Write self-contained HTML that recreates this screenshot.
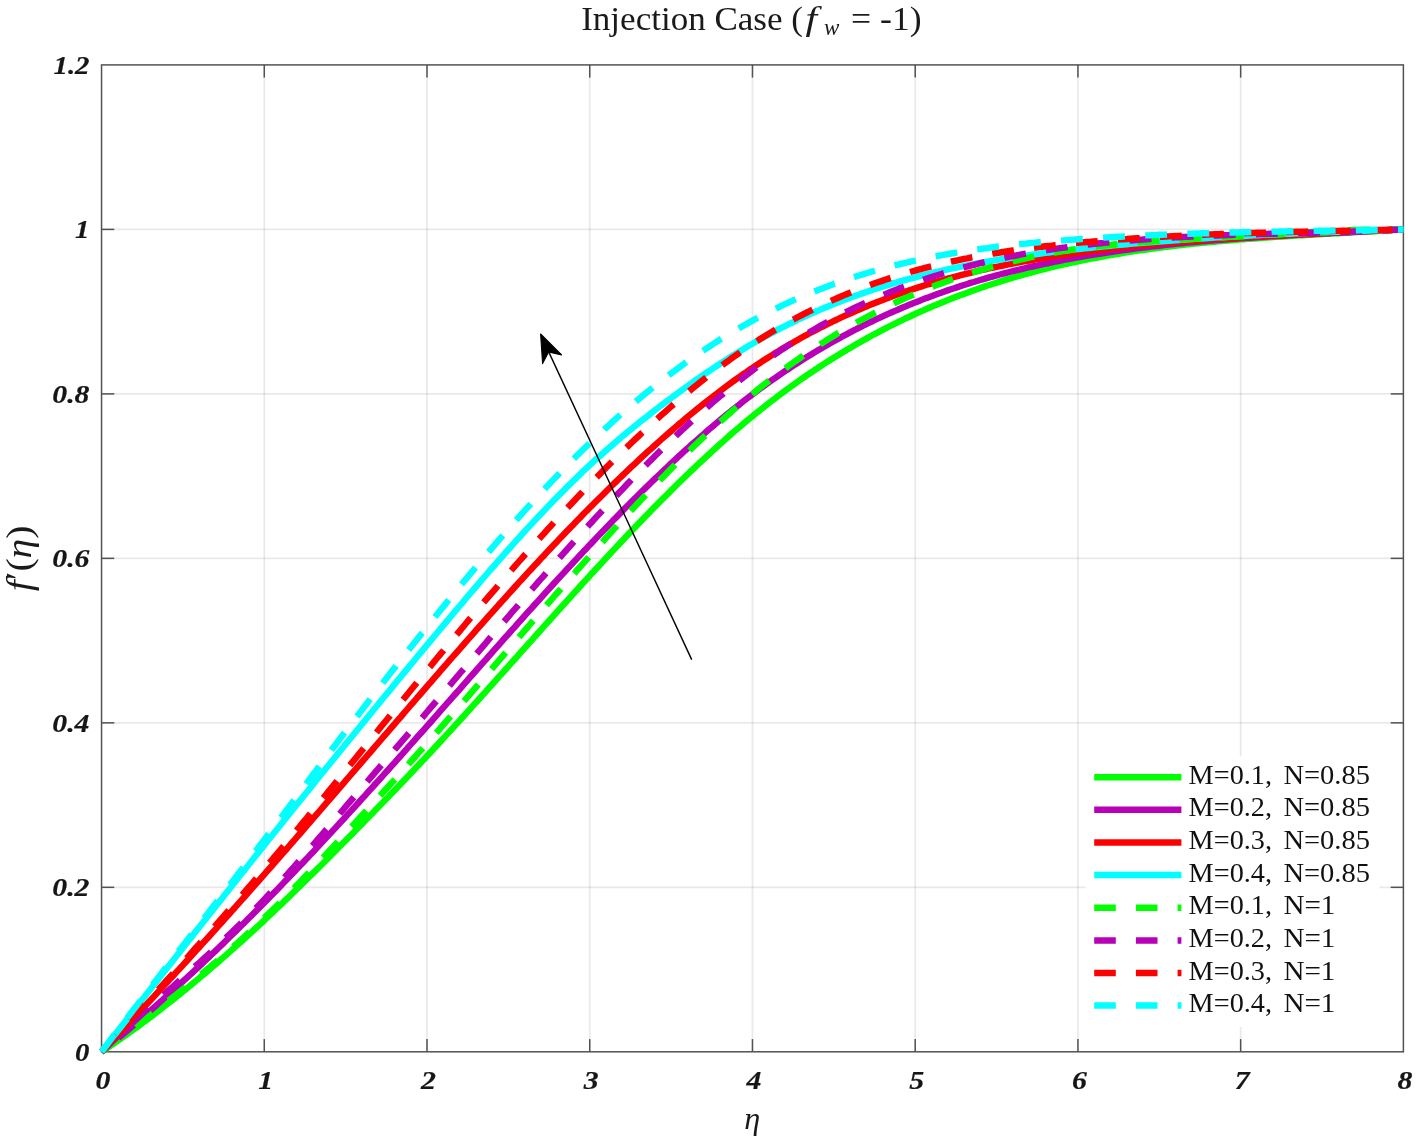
<!DOCTYPE html>
<html lang="en"><head><meta charset="utf-8"><title>Injection Case</title>
<style>html,body{margin:0;padding:0;background:#fff}svg{display:block}text{font-family:"Liberation Serif","DejaVu Serif",serif;fill:#1a1a1a}.tk{font-weight:bold;font-style:italic;font-size:24.6px;fill:#161616;stroke:#161616;stroke-width:0.2px}.lg{font-size:27px;fill:#111}.it{font-style:italic}</style></head><body>
<svg width="1416" height="1141" viewBox="0 0 1416 1141">
<rect width="1416" height="1141" fill="#fff"/>
<g stroke="#262626" stroke-opacity="0.1" stroke-width="1.7" fill="none">
<line x1="264.28" y1="64.92" x2="264.28" y2="1051.80"/>
<line x1="427.01" y1="64.92" x2="427.01" y2="1051.80"/>
<line x1="589.74" y1="64.92" x2="589.74" y2="1051.80"/>
<line x1="752.47" y1="64.92" x2="752.47" y2="1051.80"/>
<line x1="915.20" y1="64.92" x2="915.20" y2="1051.80"/>
<line x1="1077.93" y1="64.92" x2="1077.93" y2="1051.80"/>
<line x1="1240.66" y1="64.92" x2="1240.66" y2="1051.80"/>
<line x1="101.55" y1="887.32" x2="1403.39" y2="887.32"/>
<line x1="101.55" y1="722.84" x2="1403.39" y2="722.84"/>
<line x1="101.55" y1="558.36" x2="1403.39" y2="558.36"/>
<line x1="101.55" y1="393.88" x2="1403.39" y2="393.88"/>
<line x1="101.55" y1="229.40" x2="1403.39" y2="229.40"/>
</g>
<g stroke="#525252" stroke-width="1.5" fill="none">
<rect x="101.55" y="64.92" width="1301.84" height="986.88"/>
<line x1="264.28" y1="1051.80" x2="264.28" y2="1039.10"/>
<line x1="264.28" y1="64.92" x2="264.28" y2="77.62"/>
<line x1="427.01" y1="1051.80" x2="427.01" y2="1039.10"/>
<line x1="427.01" y1="64.92" x2="427.01" y2="77.62"/>
<line x1="589.74" y1="1051.80" x2="589.74" y2="1039.10"/>
<line x1="589.74" y1="64.92" x2="589.74" y2="77.62"/>
<line x1="752.47" y1="1051.80" x2="752.47" y2="1039.10"/>
<line x1="752.47" y1="64.92" x2="752.47" y2="77.62"/>
<line x1="915.20" y1="1051.80" x2="915.20" y2="1039.10"/>
<line x1="915.20" y1="64.92" x2="915.20" y2="77.62"/>
<line x1="1077.93" y1="1051.80" x2="1077.93" y2="1039.10"/>
<line x1="1077.93" y1="64.92" x2="1077.93" y2="77.62"/>
<line x1="1240.66" y1="1051.80" x2="1240.66" y2="1039.10"/>
<line x1="1240.66" y1="64.92" x2="1240.66" y2="77.62"/>
<line x1="101.55" y1="887.32" x2="114.25" y2="887.32"/>
<line x1="1403.39" y1="887.32" x2="1390.69" y2="887.32"/>
<line x1="101.55" y1="722.84" x2="114.25" y2="722.84"/>
<line x1="1403.39" y1="722.84" x2="1390.69" y2="722.84"/>
<line x1="101.55" y1="558.36" x2="114.25" y2="558.36"/>
<line x1="1403.39" y1="558.36" x2="1390.69" y2="558.36"/>
<line x1="101.55" y1="393.88" x2="114.25" y2="393.88"/>
<line x1="1403.39" y1="393.88" x2="1390.69" y2="393.88"/>
<line x1="101.55" y1="229.40" x2="114.25" y2="229.40"/>
<line x1="1403.39" y1="229.40" x2="1390.69" y2="229.40"/>
</g>
<g fill="none" stroke-width="6.4" stroke-linejoin="round">
<path d="M101.5,1051.8 L104.8,1049.6 L108.1,1047.4 L111.3,1045.2 L114.6,1043.0 L117.8,1040.7 L121.1,1038.5 L124.3,1036.2 L127.6,1033.9 L130.8,1031.5 L134.1,1029.2 L137.4,1026.8 L140.6,1024.4 L143.9,1022.0 L147.1,1019.6 L150.4,1017.1 L153.6,1014.7 L156.9,1012.2 L160.1,1009.7 L163.4,1007.1 L166.6,1004.6 L169.9,1002.0 L173.2,999.4 L176.4,996.8 L179.7,994.2 L182.9,991.6 L186.2,988.9 L189.4,986.3 L192.7,983.6 L195.9,980.9 L199.2,978.2 L202.4,975.4 L205.7,972.7 L209.0,969.9 L212.2,967.1 L215.5,964.3 L218.7,961.5 L222.0,958.6 L225.2,955.8 L228.5,952.9 L231.7,950.0 L235.0,947.1 L238.2,944.2 L241.5,941.3 L244.8,938.3 L248.0,935.3 L251.3,932.4 L254.5,929.4 L257.8,926.3 L261.0,923.3 L264.3,920.3 L267.5,917.2 L270.8,914.1 L274.0,911.1 L277.3,908.0 L280.6,904.9 L283.8,901.7 L287.1,898.6 L290.3,895.5 L293.6,892.3 L296.8,889.1 L300.1,885.9 L303.3,882.7 L306.6,879.5 L309.8,876.3 L313.1,873.1 L316.4,869.9 L319.6,866.7 L322.9,863.4 L326.1,860.2 L329.4,856.9 L332.6,853.6 L335.9,850.4 L339.1,847.1 L342.4,843.8 L345.6,840.5 L348.9,837.2 L352.2,833.9 L355.4,830.6 L358.7,827.3 L361.9,824.0 L365.2,820.6 L368.4,817.3 L371.7,814.0 L374.9,810.6 L378.2,807.3 L381.4,803.9 L384.7,800.6 L388.0,797.2 L391.2,793.8 L394.5,790.4 L397.7,787.0 L401.0,783.6 L404.2,780.2 L407.5,776.8 L410.7,773.3 L414.0,769.9 L417.2,766.4 L420.5,763.0 L423.8,759.5 L427.0,756.0 L430.3,752.5 L433.5,749.0 L436.8,745.5 L440.0,742.0 L443.3,738.4 L446.5,734.9 L449.8,731.3 L453.0,727.8 L456.3,724.2 L459.6,720.6 L462.8,717.0 L466.1,713.4 L469.3,709.8 L472.6,706.2 L475.8,702.6 L479.1,699.0 L482.3,695.4 L485.6,691.8 L488.8,688.1 L492.1,684.5 L495.4,680.9 L498.6,677.2 L501.9,673.6 L505.1,670.0 L508.4,666.3 L511.6,662.7 L514.9,659.0 L518.1,655.4 L521.4,651.7 L524.6,648.1 L527.9,644.4 L531.2,640.8 L534.4,637.2 L537.7,633.5 L540.9,629.9 L544.2,626.2 L547.4,622.6 L550.7,619.0 L553.9,615.3 L557.2,611.7 L560.4,608.1 L563.7,604.5 L567.0,600.9 L570.2,597.3 L573.5,593.7 L576.7,590.1 L580.0,586.5 L583.2,582.9 L586.5,579.4 L589.7,575.8 L593.0,572.3 L596.2,568.7 L599.5,565.2 L602.8,561.6 L606.0,558.1 L609.3,554.6 L612.5,551.1 L615.8,547.6 L619.0,544.2 L622.3,540.7 L625.5,537.3 L628.8,533.8 L632.0,530.4 L635.3,527.0 L638.6,523.6 L641.8,520.2 L645.1,516.8 L648.3,513.5 L651.6,510.1 L654.8,506.8 L658.1,503.5 L661.3,500.2 L664.6,496.9 L667.9,493.7 L671.1,490.4 L674.4,487.2 L677.6,484.0 L680.9,480.8 L684.1,477.7 L687.4,474.5 L690.6,471.4 L693.9,468.3 L697.1,465.2 L700.4,462.1 L703.7,459.1 L706.9,456.1 L710.2,453.1 L713.4,450.1 L716.7,447.1 L719.9,444.2 L723.2,441.3 L726.4,438.4 L729.7,435.5 L732.9,432.7 L736.2,429.9 L739.5,427.1 L742.7,424.3 L746.0,421.6 L749.2,418.9 L752.5,416.2 L755.7,413.6 L759.0,410.9 L762.2,408.4 L765.5,405.8 L768.7,403.2 L772.0,400.7 L775.3,398.2 L778.5,395.8 L781.8,393.3 L785.0,390.9 L788.3,388.5 L791.5,386.2 L794.8,383.8 L798.0,381.5 L801.3,379.2 L804.5,377.0 L807.8,374.7 L811.1,372.5 L814.3,370.3 L817.6,368.2 L820.8,366.0 L824.1,363.9 L827.3,361.8 L830.6,359.8 L833.8,357.7 L837.1,355.7 L840.3,353.7 L843.6,351.8 L846.9,349.8 L850.1,347.9 L853.4,346.0 L856.6,344.1 L859.9,342.2 L863.1,340.4 L866.4,338.6 L869.6,336.8 L872.9,335.0 L876.1,333.3 L879.4,331.6 L882.7,329.9 L885.9,328.2 L889.2,326.5 L892.4,324.9 L895.7,323.3 L898.9,321.7 L902.2,320.1 L905.4,318.5 L908.7,317.0 L911.9,315.5 L915.2,314.0 L918.5,312.5 L921.7,311.1 L925.0,309.6 L928.2,308.2 L931.5,306.8 L934.7,305.4 L938.0,304.1 L941.2,302.7 L944.5,301.4 L947.7,300.1 L951.0,298.8 L954.3,297.5 L957.5,296.3 L960.8,295.1 L964.0,293.9 L967.3,292.7 L970.5,291.5 L973.8,290.3 L977.0,289.2 L980.3,288.0 L983.5,286.9 L986.8,285.8 L990.1,284.8 L993.3,283.7 L996.6,282.7 L999.8,281.6 L1003.1,280.6 L1006.3,279.6 L1009.6,278.6 L1012.8,277.7 L1016.1,276.7 L1019.3,275.8 L1022.6,274.9 L1025.9,274.0 L1029.1,273.1 L1032.4,272.2 L1035.6,271.3 L1038.9,270.5 L1042.1,269.6 L1045.4,268.8 L1048.6,268.0 L1051.9,267.2 L1055.1,266.4 L1058.4,265.7 L1061.7,264.9 L1064.9,264.2 L1068.2,263.5 L1071.4,262.7 L1074.7,262.0 L1077.9,261.4 L1081.2,260.7 L1084.4,260.0 L1087.7,259.4 L1090.9,258.7 L1094.2,258.1 L1097.5,257.5 L1100.7,256.9 L1104.0,256.3 L1107.2,255.7 L1110.5,255.1 L1113.7,254.6 L1117.0,254.0 L1120.2,253.5 L1123.5,252.9 L1126.7,252.4 L1130.0,251.9 L1133.3,251.4 L1136.5,250.9 L1139.8,250.4 L1143.0,250.0 L1146.3,249.5 L1149.5,249.0 L1152.8,248.6 L1156.0,248.2 L1159.3,247.7 L1162.5,247.3 L1165.8,246.9 L1169.1,246.5 L1172.3,246.1 L1175.6,245.7 L1178.8,245.4 L1182.1,245.0 L1185.3,244.6 L1188.6,244.3 L1191.8,243.9 L1195.1,243.6 L1198.4,243.2 L1201.6,242.9 L1204.9,242.6 L1208.1,242.3 L1211.4,242.0 L1214.6,241.7 L1217.9,241.4 L1221.1,241.1 L1224.4,240.8 L1227.6,240.5 L1230.9,240.2 L1234.2,240.0 L1237.4,239.7 L1240.7,239.4 L1243.9,239.2 L1247.2,238.9 L1250.4,238.7 L1253.7,238.5 L1256.9,238.2 L1260.2,238.0 L1263.4,237.8 L1266.7,237.5 L1270.0,237.3 L1273.2,237.1 L1276.5,236.9 L1279.7,236.7 L1283.0,236.5 L1286.2,236.3 L1289.5,236.0 L1292.7,235.8 L1296.0,235.6 L1299.2,235.4 L1302.5,235.3 L1305.8,235.1 L1309.0,234.9 L1312.3,234.7 L1315.5,234.5 L1318.8,234.3 L1322.0,234.1 L1325.3,233.9 L1328.5,233.8 L1331.8,233.6 L1335.0,233.4 L1338.3,233.2 L1341.6,233.0 L1344.8,232.8 L1348.1,232.7 L1351.3,232.5 L1354.6,232.3 L1357.8,232.1 L1361.1,231.9 L1364.3,231.7 L1367.6,231.6 L1370.8,231.4 L1374.1,231.2 L1377.4,231.0 L1380.6,230.8 L1383.9,230.6 L1387.1,230.4 L1390.4,230.2 L1393.6,230.0 L1396.9,229.8 L1400.1,229.6 L1403.4,229.4" stroke="#00ff00"/>
<path d="M101.5,1051.8 L104.8,1049.2 L108.1,1046.5 L111.3,1043.8 L114.6,1041.1 L117.8,1038.4 L121.1,1035.7 L124.3,1033.0 L127.6,1030.2 L130.8,1027.5 L134.1,1024.7 L137.4,1021.9 L140.6,1019.1 L143.9,1016.3 L147.1,1013.5 L150.4,1010.6 L153.6,1007.8 L156.9,1004.9 L160.1,1002.0 L163.4,999.1 L166.6,996.2 L169.9,993.3 L173.2,990.3 L176.4,987.4 L179.7,984.4 L182.9,981.4 L186.2,978.4 L189.4,975.4 L192.7,972.4 L195.9,969.4 L199.2,966.3 L202.4,963.3 L205.7,960.2 L209.0,957.1 L212.2,954.0 L215.5,950.9 L218.7,947.8 L222.0,944.6 L225.2,941.5 L228.5,938.3 L231.7,935.1 L235.0,932.0 L238.2,928.7 L241.5,925.5 L244.8,922.3 L248.0,919.1 L251.3,915.8 L254.5,912.6 L257.8,909.3 L261.0,906.0 L264.3,902.7 L267.5,899.4 L270.8,896.1 L274.0,892.7 L277.3,889.4 L280.6,886.0 L283.8,882.6 L287.1,879.3 L290.3,875.9 L293.6,872.5 L296.8,869.1 L300.1,865.6 L303.3,862.2 L306.6,858.8 L309.8,855.3 L313.1,851.9 L316.4,848.4 L319.6,844.9 L322.9,841.4 L326.1,837.9 L329.4,834.4 L332.6,830.9 L335.9,827.4 L339.1,823.8 L342.4,820.3 L345.6,816.8 L348.9,813.2 L352.2,809.6 L355.4,806.1 L358.7,802.5 L361.9,798.9 L365.2,795.3 L368.4,791.7 L371.7,788.1 L374.9,784.5 L378.2,780.9 L381.4,777.3 L384.7,773.7 L388.0,770.0 L391.2,766.4 L394.5,762.8 L397.7,759.1 L401.0,755.5 L404.2,751.8 L407.5,748.2 L410.7,744.5 L414.0,740.8 L417.2,737.2 L420.5,733.5 L423.8,729.8 L427.0,726.2 L430.3,722.5 L433.5,718.8 L436.8,715.1 L440.0,711.4 L443.3,707.7 L446.5,704.0 L449.8,700.3 L453.0,696.7 L456.3,693.0 L459.6,689.3 L462.8,685.6 L466.1,681.9 L469.3,678.2 L472.6,674.5 L475.8,670.8 L479.1,667.1 L482.3,663.4 L485.6,659.8 L488.8,656.1 L492.1,652.4 L495.4,648.7 L498.6,645.1 L501.9,641.4 L505.1,637.7 L508.4,634.1 L511.6,630.4 L514.9,626.8 L518.1,623.1 L521.4,619.5 L524.6,615.9 L527.9,612.2 L531.2,608.6 L534.4,605.0 L537.7,601.4 L540.9,597.8 L544.2,594.2 L547.4,590.6 L550.7,587.0 L553.9,583.5 L557.2,579.9 L560.4,576.4 L563.7,572.8 L567.0,569.3 L570.2,565.8 L573.5,562.3 L576.7,558.8 L580.0,555.3 L583.2,551.8 L586.5,548.4 L589.7,544.9 L593.0,541.5 L596.2,538.1 L599.5,534.6 L602.8,531.2 L606.0,527.9 L609.3,524.5 L612.5,521.1 L615.8,517.8 L619.0,514.5 L622.3,511.1 L625.5,507.8 L628.8,504.6 L632.0,501.3 L635.3,498.0 L638.6,494.8 L641.8,491.6 L645.1,488.4 L648.3,485.2 L651.6,482.0 L654.8,478.9 L658.1,475.8 L661.3,472.7 L664.6,469.6 L667.9,466.5 L671.1,463.4 L674.4,460.4 L677.6,457.4 L680.9,454.4 L684.1,451.4 L687.4,448.5 L690.6,445.5 L693.9,442.6 L697.1,439.8 L700.4,436.9 L703.7,434.1 L706.9,431.2 L710.2,428.4 L713.4,425.7 L716.7,422.9 L719.9,420.2 L723.2,417.5 L726.4,414.8 L729.7,412.2 L732.9,409.6 L736.2,407.0 L739.5,404.4 L742.7,401.8 L746.0,399.3 L749.2,396.8 L752.5,394.4 L755.7,391.9 L759.0,389.5 L762.2,387.1 L765.5,384.8 L768.7,382.4 L772.0,380.1 L775.3,377.9 L778.5,375.6 L781.8,373.4 L785.0,371.2 L788.3,369.0 L791.5,366.9 L794.8,364.7 L798.0,362.7 L801.3,360.6 L804.5,358.5 L807.8,356.5 L811.1,354.5 L814.3,352.5 L817.6,350.6 L820.8,348.7 L824.1,346.8 L827.3,344.9 L830.6,343.0 L833.8,341.2 L837.1,339.4 L840.3,337.6 L843.6,335.8 L846.9,334.1 L850.1,332.4 L853.4,330.7 L856.6,329.0 L859.9,327.4 L863.1,325.7 L866.4,324.1 L869.6,322.5 L872.9,321.0 L876.1,319.4 L879.4,317.9 L882.7,316.4 L885.9,314.9 L889.2,313.4 L892.4,312.0 L895.7,310.6 L898.9,309.2 L902.2,307.8 L905.4,306.4 L908.7,305.1 L911.9,303.8 L915.2,302.4 L918.5,301.2 L921.7,299.9 L925.0,298.6 L928.2,297.4 L931.5,296.2 L934.7,295.0 L938.0,293.8 L941.2,292.7 L944.5,291.5 L947.7,290.4 L951.0,289.3 L954.3,288.2 L957.5,287.1 L960.8,286.0 L964.0,285.0 L967.3,284.0 L970.5,282.9 L973.8,282.0 L977.0,281.0 L980.3,280.0 L983.5,279.1 L986.8,278.1 L990.1,277.2 L993.3,276.3 L996.6,275.4 L999.8,274.5 L1003.1,273.7 L1006.3,272.8 L1009.6,272.0 L1012.8,271.2 L1016.1,270.3 L1019.3,269.6 L1022.6,268.8 L1025.9,268.0 L1029.1,267.2 L1032.4,266.5 L1035.6,265.8 L1038.9,265.1 L1042.1,264.4 L1045.4,263.7 L1048.6,263.0 L1051.9,262.3 L1055.1,261.6 L1058.4,261.0 L1061.7,260.4 L1064.9,259.7 L1068.2,259.1 L1071.4,258.5 L1074.7,257.9 L1077.9,257.3 L1081.2,256.8 L1084.4,256.2 L1087.7,255.6 L1090.9,255.1 L1094.2,254.6 L1097.5,254.0 L1100.7,253.5 L1104.0,253.0 L1107.2,252.5 L1110.5,252.0 L1113.7,251.5 L1117.0,251.1 L1120.2,250.6 L1123.5,250.1 L1126.7,249.7 L1130.0,249.3 L1133.3,248.8 L1136.5,248.4 L1139.8,248.0 L1143.0,247.6 L1146.3,247.2 L1149.5,246.8 L1152.8,246.4 L1156.0,246.0 L1159.3,245.7 L1162.5,245.3 L1165.8,244.9 L1169.1,244.6 L1172.3,244.2 L1175.6,243.9 L1178.8,243.6 L1182.1,243.3 L1185.3,242.9 L1188.6,242.6 L1191.8,242.3 L1195.1,242.0 L1198.4,241.7 L1201.6,241.4 L1204.9,241.2 L1208.1,240.9 L1211.4,240.6 L1214.6,240.3 L1217.9,240.1 L1221.1,239.8 L1224.4,239.6 L1227.6,239.3 L1230.9,239.1 L1234.2,238.8 L1237.4,238.6 L1240.7,238.4 L1243.9,238.1 L1247.2,237.9 L1250.4,237.7 L1253.7,237.5 L1256.9,237.3 L1260.2,237.1 L1263.4,236.9 L1266.7,236.6 L1270.0,236.4 L1273.2,236.3 L1276.5,236.1 L1279.7,235.9 L1283.0,235.7 L1286.2,235.5 L1289.5,235.3 L1292.7,235.1 L1296.0,234.9 L1299.2,234.8 L1302.5,234.6 L1305.8,234.4 L1309.0,234.2 L1312.3,234.1 L1315.5,233.9 L1318.8,233.7 L1322.0,233.6 L1325.3,233.4 L1328.5,233.2 L1331.8,233.1 L1335.0,232.9 L1338.3,232.7 L1341.6,232.6 L1344.8,232.4 L1348.1,232.3 L1351.3,232.1 L1354.6,231.9 L1357.8,231.8 L1361.1,231.6 L1364.3,231.4 L1367.6,231.3 L1370.8,231.1 L1374.1,230.9 L1377.4,230.8 L1380.6,230.6 L1383.9,230.4 L1387.1,230.3 L1390.4,230.1 L1393.6,229.9 L1396.9,229.8 L1400.1,229.6 L1403.4,229.4" stroke="#b800b8"/>
<path d="M101.5,1051.8 L104.8,1048.4 L108.1,1045.0 L111.3,1041.6 L114.6,1038.2 L117.8,1034.8 L121.1,1031.4 L124.3,1027.9 L127.6,1024.5 L130.8,1021.1 L134.1,1017.6 L137.4,1014.2 L140.6,1010.7 L143.9,1007.2 L147.1,1003.8 L150.4,1000.3 L153.6,996.8 L156.9,993.3 L160.1,989.8 L163.4,986.3 L166.6,982.8 L169.9,979.2 L173.2,975.7 L176.4,972.2 L179.7,968.6 L182.9,965.1 L186.2,961.5 L189.4,958.0 L192.7,954.4 L195.9,950.8 L199.2,947.3 L202.4,943.7 L205.7,940.1 L209.0,936.5 L212.2,932.9 L215.5,929.3 L218.7,925.7 L222.0,922.0 L225.2,918.4 L228.5,914.8 L231.7,911.1 L235.0,907.5 L238.2,903.8 L241.5,900.2 L244.8,896.5 L248.0,892.9 L251.3,889.2 L254.5,885.5 L257.8,881.8 L261.0,878.1 L264.3,874.4 L267.5,870.7 L270.8,867.0 L274.0,863.3 L277.3,859.6 L280.6,855.9 L283.8,852.2 L287.1,848.5 L290.3,844.7 L293.6,841.0 L296.8,837.2 L300.1,833.5 L303.3,829.8 L306.6,826.0 L309.8,822.3 L313.1,818.5 L316.4,814.7 L319.6,811.0 L322.9,807.2 L326.1,803.4 L329.4,799.7 L332.6,795.9 L335.9,792.1 L339.1,788.4 L342.4,784.6 L345.6,780.8 L348.9,777.0 L352.2,773.2 L355.4,769.5 L358.7,765.7 L361.9,761.9 L365.2,758.1 L368.4,754.3 L371.7,750.6 L374.9,746.8 L378.2,743.0 L381.4,739.2 L384.7,735.4 L388.0,731.7 L391.2,727.9 L394.5,724.1 L397.7,720.3 L401.0,716.6 L404.2,712.8 L407.5,709.0 L410.7,705.2 L414.0,701.5 L417.2,697.7 L420.5,694.0 L423.8,690.2 L427.0,686.4 L430.3,682.7 L433.5,678.9 L436.8,675.2 L440.0,671.4 L443.3,667.7 L446.5,664.0 L449.8,660.2 L453.0,656.5 L456.3,652.8 L459.6,649.1 L462.8,645.4 L466.1,641.7 L469.3,638.0 L472.6,634.3 L475.8,630.6 L479.1,626.9 L482.3,623.3 L485.6,619.6 L488.8,615.9 L492.1,612.3 L495.4,608.7 L498.6,605.0 L501.9,601.4 L505.1,597.8 L508.4,594.2 L511.6,590.6 L514.9,587.0 L518.1,583.4 L521.4,579.9 L524.6,576.3 L527.9,572.7 L531.2,569.2 L534.4,565.7 L537.7,562.2 L540.9,558.7 L544.2,555.2 L547.4,551.7 L550.7,548.2 L553.9,544.8 L557.2,541.4 L560.4,537.9 L563.7,534.5 L567.0,531.1 L570.2,527.7 L573.5,524.4 L576.7,521.0 L580.0,517.7 L583.2,514.3 L586.5,511.0 L589.7,507.7 L593.0,504.4 L596.2,501.2 L599.5,497.9 L602.8,494.7 L606.0,491.5 L609.3,488.3 L612.5,485.1 L615.8,481.9 L619.0,478.8 L622.3,475.6 L625.5,472.5 L628.8,469.4 L632.0,466.3 L635.3,463.3 L638.6,460.2 L641.8,457.2 L645.1,454.2 L648.3,451.2 L651.6,448.3 L654.8,445.3 L658.1,442.4 L661.3,439.5 L664.6,436.6 L667.9,433.8 L671.1,431.0 L674.4,428.1 L677.6,425.3 L680.9,422.6 L684.1,419.8 L687.4,417.1 L690.6,414.4 L693.9,411.7 L697.1,409.1 L700.4,406.5 L703.7,403.8 L706.9,401.3 L710.2,398.7 L713.4,396.2 L716.7,393.7 L719.9,391.2 L723.2,388.7 L726.4,386.3 L729.7,383.9 L732.9,381.5 L736.2,379.2 L739.5,376.8 L742.7,374.5 L746.0,372.3 L749.2,370.0 L752.5,367.8 L755.7,365.6 L759.0,363.5 L762.2,361.3 L765.5,359.2 L768.7,357.2 L772.0,355.1 L775.3,353.1 L778.5,351.1 L781.8,349.1 L785.0,347.2 L788.3,345.3 L791.5,343.4 L794.8,341.5 L798.0,339.7 L801.3,337.8 L804.5,336.0 L807.8,334.3 L811.1,332.5 L814.3,330.8 L817.6,329.1 L820.8,327.5 L824.1,325.8 L827.3,324.2 L830.6,322.6 L833.8,321.0 L837.1,319.5 L840.3,317.9 L843.6,316.4 L846.9,314.9 L850.1,313.5 L853.4,312.0 L856.6,310.6 L859.9,309.2 L863.1,307.8 L866.4,306.5 L869.6,305.1 L872.9,303.8 L876.1,302.5 L879.4,301.2 L882.7,300.0 L885.9,298.7 L889.2,297.5 L892.4,296.3 L895.7,295.1 L898.9,294.0 L902.2,292.8 L905.4,291.7 L908.7,290.6 L911.9,289.5 L915.2,288.4 L918.5,287.4 L921.7,286.4 L925.0,285.3 L928.2,284.3 L931.5,283.4 L934.7,282.4 L938.0,281.4 L941.2,280.5 L944.5,279.6 L947.7,278.7 L951.0,277.8 L954.3,276.9 L957.5,276.1 L960.8,275.2 L964.0,274.4 L967.3,273.6 L970.5,272.8 L973.8,272.0 L977.0,271.2 L980.3,270.4 L983.5,269.7 L986.8,269.0 L990.1,268.2 L993.3,267.5 L996.6,266.8 L999.8,266.2 L1003.1,265.5 L1006.3,264.8 L1009.6,264.2 L1012.8,263.6 L1016.1,262.9 L1019.3,262.3 L1022.6,261.7 L1025.9,261.1 L1029.1,260.5 L1032.4,260.0 L1035.6,259.4 L1038.9,258.9 L1042.1,258.3 L1045.4,257.8 L1048.6,257.3 L1051.9,256.7 L1055.1,256.2 L1058.4,255.7 L1061.7,255.2 L1064.9,254.8 L1068.2,254.3 L1071.4,253.8 L1074.7,253.4 L1077.9,252.9 L1081.2,252.5 L1084.4,252.0 L1087.7,251.6 L1090.9,251.2 L1094.2,250.8 L1097.5,250.4 L1100.7,250.0 L1104.0,249.6 L1107.2,249.2 L1110.5,248.8 L1113.7,248.4 L1117.0,248.0 L1120.2,247.7 L1123.5,247.3 L1126.7,247.0 L1130.0,246.6 L1133.3,246.3 L1136.5,245.9 L1139.8,245.6 L1143.0,245.3 L1146.3,244.9 L1149.5,244.6 L1152.8,244.3 L1156.0,244.0 L1159.3,243.7 L1162.5,243.4 L1165.8,243.1 L1169.1,242.8 L1172.3,242.6 L1175.6,242.3 L1178.8,242.0 L1182.1,241.7 L1185.3,241.5 L1188.6,241.2 L1191.8,241.0 L1195.1,240.7 L1198.4,240.5 L1201.6,240.2 L1204.9,240.0 L1208.1,239.8 L1211.4,239.5 L1214.6,239.3 L1217.9,239.1 L1221.1,238.9 L1224.4,238.6 L1227.6,238.4 L1230.9,238.2 L1234.2,238.0 L1237.4,237.8 L1240.7,237.6 L1243.9,237.4 L1247.2,237.2 L1250.4,237.0 L1253.7,236.8 L1256.9,236.6 L1260.2,236.4 L1263.4,236.3 L1266.7,236.1 L1270.0,235.9 L1273.2,235.7 L1276.5,235.5 L1279.7,235.4 L1283.0,235.2 L1286.2,235.0 L1289.5,234.9 L1292.7,234.7 L1296.0,234.5 L1299.2,234.4 L1302.5,234.2 L1305.8,234.0 L1309.0,233.9 L1312.3,233.7 L1315.5,233.6 L1318.8,233.4 L1322.0,233.3 L1325.3,233.1 L1328.5,233.0 L1331.8,232.8 L1335.0,232.6 L1338.3,232.5 L1341.6,232.3 L1344.8,232.2 L1348.1,232.0 L1351.3,231.9 L1354.6,231.7 L1357.8,231.6 L1361.1,231.4 L1364.3,231.3 L1367.6,231.1 L1370.8,231.0 L1374.1,230.8 L1377.4,230.7 L1380.6,230.5 L1383.9,230.4 L1387.1,230.2 L1390.4,230.0 L1393.6,229.9 L1396.9,229.7 L1400.1,229.6 L1403.4,229.4" stroke="#ff0000"/>
<path d="M101.5,1051.8 L104.8,1047.6 L108.1,1043.4 L111.3,1039.3 L114.6,1035.1 L117.8,1030.9 L121.1,1026.7 L124.3,1022.6 L127.6,1018.4 L130.8,1014.2 L134.1,1010.1 L137.4,1005.9 L140.6,1001.7 L143.9,997.6 L147.1,993.4 L150.4,989.3 L153.6,985.1 L156.9,981.0 L160.1,976.8 L163.4,972.7 L166.6,968.5 L169.9,964.4 L173.2,960.2 L176.4,956.1 L179.7,952.0 L182.9,947.8 L186.2,943.7 L189.4,939.6 L192.7,935.4 L195.9,931.3 L199.2,927.2 L202.4,923.1 L205.7,918.9 L209.0,914.8 L212.2,910.7 L215.5,906.6 L218.7,902.5 L222.0,898.4 L225.2,894.3 L228.5,890.2 L231.7,886.1 L235.0,882.0 L238.2,877.9 L241.5,873.8 L244.8,869.7 L248.0,865.6 L251.3,861.5 L254.5,857.4 L257.8,853.3 L261.0,849.3 L264.3,845.2 L267.5,841.1 L270.8,837.0 L274.0,833.0 L277.3,828.9 L280.6,824.8 L283.8,820.8 L287.1,816.7 L290.3,812.7 L293.6,808.6 L296.8,804.6 L300.1,800.5 L303.3,796.5 L306.6,792.4 L309.8,788.4 L313.1,784.4 L316.4,780.3 L319.6,776.3 L322.9,772.3 L326.1,768.2 L329.4,764.2 L332.6,760.2 L335.9,756.2 L339.1,752.2 L342.4,748.2 L345.6,744.2 L348.9,740.2 L352.2,736.2 L355.4,732.2 L358.7,728.2 L361.9,724.2 L365.2,720.2 L368.4,716.2 L371.7,712.2 L374.9,708.2 L378.2,704.3 L381.4,700.3 L384.7,696.3 L388.0,692.4 L391.2,688.4 L394.5,684.4 L397.7,680.5 L401.0,676.5 L404.2,672.6 L407.5,668.6 L410.7,664.7 L414.0,660.7 L417.2,656.8 L420.5,652.9 L423.8,648.9 L427.0,645.0 L430.3,641.1 L433.5,637.2 L436.8,633.3 L440.0,629.4 L443.3,625.5 L446.5,621.6 L449.8,617.7 L453.0,613.8 L456.3,609.9 L459.6,606.0 L462.8,602.2 L466.1,598.3 L469.3,594.5 L472.6,590.7 L475.8,586.9 L479.1,583.1 L482.3,579.3 L485.6,575.5 L488.8,571.7 L492.1,568.0 L495.4,564.3 L498.6,560.5 L501.9,556.8 L505.1,553.2 L508.4,549.5 L511.6,545.8 L514.9,542.2 L518.1,538.6 L521.4,535.0 L524.6,531.4 L527.9,527.9 L531.2,524.4 L534.4,520.9 L537.7,517.4 L540.9,513.9 L544.2,510.5 L547.4,507.1 L550.7,503.7 L553.9,500.3 L557.2,497.0 L560.4,493.7 L563.7,490.4 L567.0,487.1 L570.2,483.9 L573.5,480.7 L576.7,477.6 L580.0,474.4 L583.2,471.3 L586.5,468.2 L589.7,465.2 L593.0,462.2 L596.2,459.2 L599.5,456.3 L602.8,453.3 L606.0,450.5 L609.3,447.6 L612.5,444.8 L615.8,442.0 L619.0,439.2 L622.3,436.4 L625.5,433.7 L628.8,431.0 L632.0,428.4 L635.3,425.7 L638.6,423.1 L641.8,420.5 L645.1,417.9 L648.3,415.4 L651.6,412.8 L654.8,410.3 L658.1,407.8 L661.3,405.3 L664.6,402.9 L667.9,400.4 L671.1,398.0 L674.4,395.6 L677.6,393.2 L680.9,390.8 L684.1,388.5 L687.4,386.1 L690.6,383.8 L693.9,381.5 L697.1,379.2 L700.4,377.0 L703.7,374.7 L706.9,372.5 L710.2,370.3 L713.4,368.1 L716.7,366.0 L719.9,363.8 L723.2,361.7 L726.4,359.6 L729.7,357.5 L732.9,355.5 L736.2,353.5 L739.5,351.5 L742.7,349.5 L746.0,347.5 L749.2,345.6 L752.5,343.7 L755.7,341.8 L759.0,340.0 L762.2,338.1 L765.5,336.3 L768.7,334.6 L772.0,332.8 L775.3,331.1 L778.5,329.4 L781.8,327.7 L785.0,326.1 L788.3,324.4 L791.5,322.8 L794.8,321.3 L798.0,319.7 L801.3,318.2 L804.5,316.7 L807.8,315.2 L811.1,313.7 L814.3,312.3 L817.6,310.8 L820.8,309.4 L824.1,308.0 L827.3,306.7 L830.6,305.4 L833.8,304.0 L837.1,302.7 L840.3,301.5 L843.6,300.2 L846.9,299.0 L850.1,297.8 L853.4,296.6 L856.6,295.4 L859.9,294.2 L863.1,293.1 L866.4,292.0 L869.6,290.9 L872.9,289.8 L876.1,288.7 L879.4,287.7 L882.7,286.6 L885.9,285.6 L889.2,284.6 L892.4,283.6 L895.7,282.7 L898.9,281.7 L902.2,280.8 L905.4,279.9 L908.7,279.0 L911.9,278.1 L915.2,277.3 L918.5,276.4 L921.7,275.6 L925.0,274.8 L928.2,273.9 L931.5,273.2 L934.7,272.4 L938.0,271.6 L941.2,270.9 L944.5,270.1 L947.7,269.4 L951.0,268.7 L954.3,268.0 L957.5,267.3 L960.8,266.7 L964.0,266.0 L967.3,265.3 L970.5,264.7 L973.8,264.1 L977.0,263.5 L980.3,262.9 L983.5,262.3 L986.8,261.7 L990.1,261.1 L993.3,260.6 L996.6,260.0 L999.8,259.5 L1003.1,259.0 L1006.3,258.5 L1009.6,258.0 L1012.8,257.5 L1016.1,257.0 L1019.3,256.5 L1022.6,256.0 L1025.9,255.6 L1029.1,255.1 L1032.4,254.6 L1035.6,254.2 L1038.9,253.8 L1042.1,253.3 L1045.4,252.9 L1048.6,252.5 L1051.9,252.1 L1055.1,251.7 L1058.4,251.3 L1061.7,250.9 L1064.9,250.6 L1068.2,250.2 L1071.4,249.8 L1074.7,249.4 L1077.9,249.1 L1081.2,248.7 L1084.4,248.4 L1087.7,248.0 L1090.9,247.7 L1094.2,247.3 L1097.5,247.0 L1100.7,246.7 L1104.0,246.4 L1107.2,246.0 L1110.5,245.7 L1113.7,245.4 L1117.0,245.1 L1120.2,244.8 L1123.5,244.5 L1126.7,244.2 L1130.0,243.9 L1133.3,243.6 L1136.5,243.4 L1139.8,243.1 L1143.0,242.8 L1146.3,242.5 L1149.5,242.3 L1152.8,242.0 L1156.0,241.7 L1159.3,241.5 L1162.5,241.2 L1165.8,241.0 L1169.1,240.7 L1172.3,240.5 L1175.6,240.3 L1178.8,240.0 L1182.1,239.8 L1185.3,239.6 L1188.6,239.3 L1191.8,239.1 L1195.1,238.9 L1198.4,238.7 L1201.6,238.5 L1204.9,238.3 L1208.1,238.1 L1211.4,237.8 L1214.6,237.6 L1217.9,237.4 L1221.1,237.3 L1224.4,237.1 L1227.6,236.9 L1230.9,236.7 L1234.2,236.5 L1237.4,236.3 L1240.7,236.1 L1243.9,236.0 L1247.2,235.8 L1250.4,235.6 L1253.7,235.4 L1256.9,235.3 L1260.2,235.1 L1263.4,234.9 L1266.7,234.8 L1270.0,234.6 L1273.2,234.5 L1276.5,234.3 L1279.7,234.2 L1283.0,234.0 L1286.2,233.9 L1289.5,233.7 L1292.7,233.6 L1296.0,233.4 L1299.2,233.3 L1302.5,233.1 L1305.8,233.0 L1309.0,232.9 L1312.3,232.7 L1315.5,232.6 L1318.8,232.5 L1322.0,232.3 L1325.3,232.2 L1328.5,232.1 L1331.8,232.0 L1335.0,231.8 L1338.3,231.7 L1341.6,231.6 L1344.8,231.5 L1348.1,231.3 L1351.3,231.2 L1354.6,231.1 L1357.8,231.0 L1361.1,230.9 L1364.3,230.7 L1367.6,230.6 L1370.8,230.5 L1374.1,230.4 L1377.4,230.3 L1380.6,230.2 L1383.9,230.1 L1387.1,230.0 L1390.4,229.8 L1393.6,229.7 L1396.9,229.6 L1400.1,229.5 L1403.4,229.4" stroke="#00ffff"/>
<path d="M101.5,1051.8 L104.8,1049.4 L108.1,1046.9 L111.3,1044.5 L114.6,1042.0 L117.8,1039.5 L121.1,1037.1 L124.3,1034.6 L127.6,1032.2 L130.8,1029.7 L134.1,1027.2 L137.4,1024.8 L140.6,1022.3 L143.9,1019.8 L147.1,1017.3 L150.4,1014.8 L153.6,1012.3 L156.9,1009.8 L160.1,1007.2 L163.4,1004.7 L166.6,1002.1 L169.9,999.6 L173.2,997.0 L176.4,994.4 L179.7,991.8 L182.9,989.2 L186.2,986.6 L189.4,984.0 L192.7,981.3 L195.9,978.6 L199.2,975.9 L202.4,973.2 L205.7,970.5 L209.0,967.8 L212.2,965.0 L215.5,962.3 L218.7,959.5 L222.0,956.7 L225.2,953.8 L228.5,951.0 L231.7,948.1 L235.0,945.2 L238.2,942.3 L241.5,939.3 L244.8,936.3 L248.0,933.3 L251.3,930.3 L254.5,927.3 L257.8,924.2 L261.0,921.1 L264.3,918.0 L267.5,914.8 L270.8,911.6 L274.0,908.4 L277.3,905.2 L280.6,901.9 L283.8,898.6 L287.1,895.3 L290.3,892.0 L293.6,888.7 L296.8,885.3 L300.1,881.9 L303.3,878.5 L306.6,875.1 L309.8,871.7 L313.1,868.2 L316.4,864.7 L319.6,861.3 L322.9,857.8 L326.1,854.3 L329.4,850.8 L332.6,847.3 L335.9,843.8 L339.1,840.3 L342.4,836.7 L345.6,833.2 L348.9,829.7 L352.2,826.1 L355.4,822.6 L358.7,819.0 L361.9,815.5 L365.2,811.9 L368.4,808.4 L371.7,804.8 L374.9,801.3 L378.2,797.7 L381.4,794.1 L384.7,790.5 L388.0,787.0 L391.2,783.4 L394.5,779.8 L397.7,776.2 L401.0,772.5 L404.2,768.9 L407.5,765.3 L410.7,761.7 L414.0,758.0 L417.2,754.4 L420.5,750.7 L423.8,747.0 L427.0,743.4 L430.3,739.7 L433.5,736.0 L436.8,732.3 L440.0,728.6 L443.3,724.9 L446.5,721.1 L449.8,717.4 L453.0,713.7 L456.3,709.9 L459.6,706.2 L462.8,702.4 L466.1,698.7 L469.3,694.9 L472.6,691.1 L475.8,687.4 L479.1,683.6 L482.3,679.8 L485.6,676.0 L488.8,672.2 L492.1,668.5 L495.4,664.7 L498.6,660.9 L501.9,657.1 L505.1,653.3 L508.4,649.5 L511.6,645.7 L514.9,641.9 L518.1,638.2 L521.4,634.4 L524.6,630.6 L527.9,626.8 L531.2,623.0 L534.4,619.3 L537.7,615.5 L540.9,611.7 L544.2,608.0 L547.4,604.2 L550.7,600.5 L553.9,596.7 L557.2,593.0 L560.4,589.3 L563.7,585.5 L567.0,581.8 L570.2,578.1 L573.5,574.4 L576.7,570.7 L580.0,567.0 L583.2,563.3 L586.5,559.7 L589.7,556.0 L593.0,552.4 L596.2,548.7 L599.5,545.1 L602.8,541.5 L606.0,537.9 L609.3,534.3 L612.5,530.7 L615.8,527.1 L619.0,523.6 L622.3,520.0 L625.5,516.5 L628.8,513.0 L632.0,509.5 L635.3,506.0 L638.6,502.5 L641.8,499.1 L645.1,495.7 L648.3,492.2 L651.6,488.8 L654.8,485.4 L658.1,482.1 L661.3,478.7 L664.6,475.4 L667.9,472.1 L671.1,468.8 L674.4,465.5 L677.6,462.3 L680.9,459.0 L684.1,455.8 L687.4,452.6 L690.6,449.5 L693.9,446.3 L697.1,443.2 L700.4,440.1 L703.7,437.0 L706.9,434.0 L710.2,430.9 L713.4,427.9 L716.7,424.9 L719.9,422.0 L723.2,419.1 L726.4,416.1 L729.7,413.3 L732.9,410.4 L736.2,407.6 L739.5,404.8 L742.7,402.0 L746.0,399.3 L749.2,396.6 L752.5,393.9 L755.7,391.2 L759.0,388.6 L762.2,386.0 L765.5,383.4 L768.7,380.9 L772.0,378.4 L775.3,375.9 L778.5,373.4 L781.8,371.0 L785.0,368.6 L788.3,366.2 L791.5,363.9 L794.8,361.5 L798.0,359.3 L801.3,357.0 L804.5,354.8 L807.8,352.5 L811.1,350.4 L814.3,348.2 L817.6,346.1 L820.8,344.0 L824.1,341.9 L827.3,339.8 L830.6,337.8 L833.8,335.8 L837.1,333.8 L840.3,331.9 L843.6,330.0 L846.9,328.1 L850.1,326.2 L853.4,324.4 L856.6,322.5 L859.9,320.7 L863.1,319.0 L866.4,317.2 L869.6,315.5 L872.9,313.8 L876.1,312.1 L879.4,310.5 L882.7,308.8 L885.9,307.2 L889.2,305.6 L892.4,304.1 L895.7,302.5 L898.9,301.0 L902.2,299.5 L905.4,298.1 L908.7,296.6 L911.9,295.2 L915.2,293.8 L918.5,292.4 L921.7,291.1 L925.0,289.7 L928.2,288.4 L931.5,287.1 L934.7,285.8 L938.0,284.6 L941.2,283.4 L944.5,282.2 L947.7,281.0 L951.0,279.8 L954.3,278.7 L957.5,277.5 L960.8,276.4 L964.0,275.3 L967.3,274.3 L970.5,273.2 L973.8,272.2 L977.0,271.2 L980.3,270.2 L983.5,269.2 L986.8,268.3 L990.1,267.4 L993.3,266.4 L996.6,265.6 L999.8,264.7 L1003.1,263.8 L1006.3,263.0 L1009.6,262.2 L1012.8,261.4 L1016.1,260.6 L1019.3,259.8 L1022.6,259.1 L1025.9,258.3 L1029.1,257.6 L1032.4,256.9 L1035.6,256.2 L1038.9,255.6 L1042.1,254.9 L1045.4,254.3 L1048.6,253.7 L1051.9,253.1 L1055.1,252.5 L1058.4,251.9 L1061.7,251.4 L1064.9,250.8 L1068.2,250.3 L1071.4,249.8 L1074.7,249.3 L1077.9,248.8 L1081.2,248.4 L1084.4,247.9 L1087.7,247.5 L1090.9,247.1 L1094.2,246.7 L1097.5,246.3 L1100.7,245.9 L1104.0,245.6 L1107.2,245.2 L1110.5,244.9 L1113.7,244.5 L1117.0,244.2 L1120.2,243.9 L1123.5,243.6 L1126.7,243.3 L1130.0,243.0 L1133.3,242.8 L1136.5,242.5 L1139.8,242.2 L1143.0,242.0 L1146.3,241.7 L1149.5,241.5 L1152.8,241.3 L1156.0,241.1 L1159.3,240.9 L1162.5,240.6 L1165.8,240.4 L1169.1,240.2 L1172.3,240.1 L1175.6,239.9 L1178.8,239.7 L1182.1,239.5 L1185.3,239.3 L1188.6,239.1 L1191.8,239.0 L1195.1,238.8 L1198.4,238.6 L1201.6,238.5 L1204.9,238.3 L1208.1,238.1 L1211.4,238.0 L1214.6,237.8 L1217.9,237.6 L1221.1,237.5 L1224.4,237.3 L1227.6,237.1 L1230.9,236.9 L1234.2,236.8 L1237.4,236.6 L1240.7,236.4 L1243.9,236.2 L1247.2,236.0 L1250.4,235.8 L1253.7,235.6 L1256.9,235.4 L1260.2,235.2 L1263.4,235.0 L1266.7,234.8 L1270.0,234.6 L1273.2,234.4 L1276.5,234.2 L1279.7,234.0 L1283.0,233.8 L1286.2,233.6 L1289.5,233.4 L1292.7,233.2 L1296.0,233.0 L1299.2,232.8 L1302.5,232.6 L1305.8,232.4 L1309.0,232.2 L1312.3,232.0 L1315.5,231.8 L1318.8,231.7 L1322.0,231.5 L1325.3,231.3 L1328.5,231.1 L1331.8,231.0 L1335.0,230.8 L1338.3,230.7 L1341.6,230.5 L1344.8,230.4 L1348.1,230.3 L1351.3,230.1 L1354.6,230.0 L1357.8,229.9 L1361.1,229.8 L1364.3,229.7 L1367.6,229.6 L1370.8,229.6 L1374.1,229.5 L1377.4,229.5 L1380.6,229.4 L1383.9,229.4 L1387.1,229.3 L1390.4,229.3 L1393.6,229.3 L1396.9,229.3 L1400.1,229.4 L1403.4,229.4" stroke="#00ff00" stroke-dasharray="21.9 20.25"/>
<path d="M101.5,1051.8 L104.8,1048.7 L108.1,1045.6 L111.3,1042.5 L114.6,1039.4 L117.8,1036.4 L121.1,1033.3 L124.3,1030.3 L127.6,1027.3 L130.8,1024.3 L134.1,1021.4 L137.4,1018.4 L140.6,1015.5 L143.9,1012.5 L147.1,1009.6 L150.4,1006.7 L153.6,1003.7 L156.9,1000.8 L160.1,997.9 L163.4,995.0 L166.6,992.1 L169.9,989.2 L173.2,986.3 L176.4,983.3 L179.7,980.4 L182.9,977.5 L186.2,974.6 L189.4,971.6 L192.7,968.7 L195.9,965.7 L199.2,962.8 L202.4,959.8 L205.7,956.8 L209.0,953.8 L212.2,950.8 L215.5,947.7 L218.7,944.7 L222.0,941.6 L225.2,938.5 L228.5,935.4 L231.7,932.3 L235.0,929.1 L238.2,925.9 L241.5,922.7 L244.8,919.5 L248.0,916.2 L251.3,912.9 L254.5,909.6 L257.8,906.2 L261.0,902.9 L264.3,899.4 L267.5,896.0 L270.8,892.5 L274.0,889.0 L277.3,885.4 L280.6,881.9 L283.8,878.3 L287.1,874.6 L290.3,871.0 L293.6,867.3 L296.8,863.6 L300.1,859.9 L303.3,856.1 L306.6,852.4 L309.8,848.6 L313.1,844.9 L316.4,841.1 L319.6,837.3 L322.9,833.5 L326.1,829.7 L329.4,825.9 L332.6,822.0 L335.9,818.2 L339.1,814.4 L342.4,810.6 L345.6,806.8 L348.9,802.9 L352.2,799.1 L355.4,795.3 L358.7,791.5 L361.9,787.7 L365.2,784.0 L368.4,780.2 L371.7,776.4 L374.9,772.6 L378.2,768.8 L381.4,765.0 L384.7,761.2 L388.0,757.5 L391.2,753.7 L394.5,749.9 L397.7,746.1 L401.0,742.3 L404.2,738.6 L407.5,734.8 L410.7,731.0 L414.0,727.2 L417.2,723.4 L420.5,719.6 L423.8,715.8 L427.0,712.0 L430.3,708.2 L433.5,704.4 L436.8,700.6 L440.0,696.8 L443.3,692.9 L446.5,689.1 L449.8,685.3 L453.0,681.5 L456.3,677.7 L459.6,673.8 L462.8,670.0 L466.1,666.2 L469.3,662.4 L472.6,658.5 L475.8,654.7 L479.1,650.9 L482.3,647.1 L485.6,643.3 L488.8,639.4 L492.1,635.6 L495.4,631.8 L498.6,628.0 L501.9,624.2 L505.1,620.4 L508.4,616.6 L511.6,612.8 L514.9,609.0 L518.1,605.3 L521.4,601.5 L524.6,597.7 L527.9,594.0 L531.2,590.2 L534.4,586.5 L537.7,582.7 L540.9,579.0 L544.2,575.3 L547.4,571.6 L550.7,567.9 L553.9,564.2 L557.2,560.5 L560.4,556.8 L563.7,553.1 L567.0,549.5 L570.2,545.8 L573.5,542.2 L576.7,538.6 L580.0,535.0 L583.2,531.4 L586.5,527.8 L589.7,524.2 L593.0,520.7 L596.2,517.1 L599.5,513.6 L602.8,510.1 L606.0,506.6 L609.3,503.1 L612.5,499.7 L615.8,496.2 L619.0,492.8 L622.3,489.4 L625.5,486.0 L628.8,482.6 L632.0,479.2 L635.3,475.9 L638.6,472.5 L641.8,469.2 L645.1,465.9 L648.3,462.7 L651.6,459.4 L654.8,456.2 L658.1,453.0 L661.3,449.8 L664.6,446.6 L667.9,443.5 L671.1,440.4 L674.4,437.3 L677.6,434.2 L680.9,431.1 L684.1,428.1 L687.4,425.1 L690.6,422.1 L693.9,419.1 L697.1,416.2 L700.4,413.3 L703.7,410.4 L706.9,407.6 L710.2,404.7 L713.4,401.9 L716.7,399.1 L719.9,396.4 L723.2,393.7 L726.4,391.0 L729.7,388.3 L732.9,385.7 L736.2,383.0 L739.5,380.5 L742.7,377.9 L746.0,375.4 L749.2,372.9 L752.5,370.4 L755.7,368.0 L759.0,365.6 L762.2,363.2 L765.5,360.9 L768.7,358.6 L772.0,356.3 L775.3,354.1 L778.5,351.9 L781.8,349.7 L785.0,347.5 L788.3,345.4 L791.5,343.3 L794.8,341.2 L798.0,339.2 L801.3,337.1 L804.5,335.2 L807.8,333.2 L811.1,331.3 L814.3,329.4 L817.6,327.5 L820.8,325.6 L824.1,323.8 L827.3,322.0 L830.6,320.2 L833.8,318.5 L837.1,316.8 L840.3,315.1 L843.6,313.4 L846.9,311.7 L850.1,310.1 L853.4,308.5 L856.6,306.9 L859.9,305.4 L863.1,303.9 L866.4,302.4 L869.6,300.9 L872.9,299.4 L876.1,298.0 L879.4,296.6 L882.7,295.2 L885.9,293.9 L889.2,292.5 L892.4,291.2 L895.7,289.9 L898.9,288.6 L902.2,287.4 L905.4,286.2 L908.7,285.0 L911.9,283.8 L915.2,282.6 L918.5,281.4 L921.7,280.3 L925.0,279.2 L928.2,278.1 L931.5,277.1 L934.7,276.0 L938.0,275.0 L941.2,274.0 L944.5,273.0 L947.7,272.0 L951.0,271.1 L954.3,270.1 L957.5,269.2 L960.8,268.3 L964.0,267.4 L967.3,266.5 L970.5,265.7 L973.8,264.9 L977.0,264.0 L980.3,263.2 L983.5,262.5 L986.8,261.7 L990.1,260.9 L993.3,260.2 L996.6,259.5 L999.8,258.8 L1003.1,258.1 L1006.3,257.4 L1009.6,256.7 L1012.8,256.1 L1016.1,255.5 L1019.3,254.8 L1022.6,254.2 L1025.9,253.6 L1029.1,253.1 L1032.4,252.5 L1035.6,251.9 L1038.9,251.4 L1042.1,250.9 L1045.4,250.3 L1048.6,249.8 L1051.9,249.3 L1055.1,248.9 L1058.4,248.4 L1061.7,247.9 L1064.9,247.5 L1068.2,247.0 L1071.4,246.6 L1074.7,246.2 L1077.9,245.8 L1081.2,245.4 L1084.4,245.0 L1087.7,244.6 L1090.9,244.2 L1094.2,243.9 L1097.5,243.5 L1100.7,243.2 L1104.0,242.9 L1107.2,242.5 L1110.5,242.2 L1113.7,241.9 L1117.0,241.6 L1120.2,241.3 L1123.5,241.0 L1126.7,240.7 L1130.0,240.5 L1133.3,240.2 L1136.5,240.0 L1139.8,239.7 L1143.0,239.5 L1146.3,239.2 L1149.5,239.0 L1152.8,238.8 L1156.0,238.6 L1159.3,238.4 L1162.5,238.1 L1165.8,238.0 L1169.1,237.8 L1172.3,237.6 L1175.6,237.4 L1178.8,237.2 L1182.1,237.0 L1185.3,236.9 L1188.6,236.7 L1191.8,236.6 L1195.1,236.4 L1198.4,236.3 L1201.6,236.1 L1204.9,236.0 L1208.1,235.9 L1211.4,235.7 L1214.6,235.6 L1217.9,235.5 L1221.1,235.4 L1224.4,235.2 L1227.6,235.1 L1230.9,235.0 L1234.2,234.9 L1237.4,234.8 L1240.7,234.7 L1243.9,234.6 L1247.2,234.5 L1250.4,234.4 L1253.7,234.3 L1256.9,234.2 L1260.2,234.1 L1263.4,234.0 L1266.7,233.9 L1270.0,233.8 L1273.2,233.8 L1276.5,233.7 L1279.7,233.6 L1283.0,233.5 L1286.2,233.4 L1289.5,233.3 L1292.7,233.3 L1296.0,233.2 L1299.2,233.1 L1302.5,233.0 L1305.8,232.9 L1309.0,232.8 L1312.3,232.7 L1315.5,232.7 L1318.8,232.6 L1322.0,232.5 L1325.3,232.4 L1328.5,232.3 L1331.8,232.2 L1335.0,232.1 L1338.3,232.0 L1341.6,231.9 L1344.8,231.8 L1348.1,231.7 L1351.3,231.6 L1354.6,231.5 L1357.8,231.4 L1361.1,231.3 L1364.3,231.1 L1367.6,231.0 L1370.8,230.9 L1374.1,230.8 L1377.4,230.6 L1380.6,230.5 L1383.9,230.3 L1387.1,230.2 L1390.4,230.0 L1393.6,229.9 L1396.9,229.7 L1400.1,229.6 L1403.4,229.4" stroke="#b800b8" stroke-dasharray="21.9 20.25"/>
<path d="M101.5,1051.8 L104.8,1048.3 L108.1,1044.7 L111.3,1041.2 L114.6,1037.7 L117.8,1034.1 L121.1,1030.6 L124.3,1027.0 L127.6,1023.5 L130.8,1019.9 L134.1,1016.3 L137.4,1012.8 L140.6,1009.2 L143.9,1005.6 L147.1,1002.1 L150.4,998.5 L153.6,994.9 L156.9,991.3 L160.1,987.7 L163.4,984.1 L166.6,980.5 L169.9,976.9 L173.2,973.3 L176.4,969.6 L179.7,966.0 L182.9,962.4 L186.2,958.7 L189.4,955.1 L192.7,951.4 L195.9,947.7 L199.2,944.1 L202.4,940.4 L205.7,936.7 L209.0,933.0 L212.2,929.3 L215.5,925.6 L218.7,921.9 L222.0,918.2 L225.2,914.4 L228.5,910.7 L231.7,906.9 L235.0,903.2 L238.2,899.4 L241.5,895.6 L244.8,891.9 L248.0,888.1 L251.3,884.3 L254.5,880.5 L257.8,876.6 L261.0,872.8 L264.3,869.0 L267.5,865.1 L270.8,861.2 L274.0,857.4 L277.3,853.5 L280.6,849.6 L283.8,845.7 L287.1,841.8 L290.3,837.9 L293.6,834.0 L296.8,830.0 L300.1,826.1 L303.3,822.1 L306.6,818.2 L309.8,814.2 L313.1,810.3 L316.4,806.3 L319.6,802.3 L322.9,798.4 L326.1,794.4 L329.4,790.4 L332.6,786.4 L335.9,782.4 L339.1,778.4 L342.4,774.4 L345.6,770.4 L348.9,766.4 L352.2,762.4 L355.4,758.4 L358.7,754.4 L361.9,750.4 L365.2,746.4 L368.4,742.3 L371.7,738.3 L374.9,734.3 L378.2,730.3 L381.4,726.3 L384.7,722.3 L388.0,718.3 L391.2,714.3 L394.5,710.3 L397.7,706.3 L401.0,702.3 L404.2,698.3 L407.5,694.3 L410.7,690.3 L414.0,686.3 L417.2,682.3 L420.5,678.4 L423.8,674.4 L427.0,670.4 L430.3,666.5 L433.5,662.5 L436.8,658.5 L440.0,654.6 L443.3,650.7 L446.5,646.7 L449.8,642.8 L453.0,638.9 L456.3,635.0 L459.6,631.1 L462.8,627.2 L466.1,623.3 L469.3,619.4 L472.6,615.6 L475.8,611.7 L479.1,607.9 L482.3,604.0 L485.6,600.2 L488.8,596.4 L492.1,592.6 L495.4,588.8 L498.6,585.0 L501.9,581.2 L505.1,577.5 L508.4,573.7 L511.6,570.0 L514.9,566.2 L518.1,562.5 L521.4,558.8 L524.6,555.1 L527.9,551.5 L531.2,547.8 L534.4,544.1 L537.7,540.5 L540.9,536.9 L544.2,533.3 L547.4,529.7 L550.7,526.1 L553.9,522.5 L557.2,519.0 L560.4,515.5 L563.7,511.9 L567.0,508.4 L570.2,505.0 L573.5,501.5 L576.7,498.0 L580.0,494.6 L583.2,491.2 L586.5,487.8 L589.7,484.4 L593.0,481.1 L596.2,477.7 L599.5,474.4 L602.8,471.1 L606.0,467.8 L609.3,464.5 L612.5,461.3 L615.8,458.1 L619.0,454.9 L622.3,451.7 L625.5,448.5 L628.8,445.4 L632.0,442.3 L635.3,439.2 L638.6,436.1 L641.8,433.0 L645.1,430.0 L648.3,427.0 L651.6,424.0 L654.8,421.0 L658.1,418.1 L661.3,415.2 L664.6,412.3 L667.9,409.4 L671.1,406.5 L674.4,403.7 L677.6,400.9 L680.9,398.2 L684.1,395.4 L687.4,392.7 L690.6,390.0 L693.9,387.3 L697.1,384.7 L700.4,382.1 L703.7,379.5 L706.9,376.9 L710.2,374.4 L713.4,371.9 L716.7,369.4 L719.9,366.9 L723.2,364.5 L726.4,362.1 L729.7,359.8 L732.9,357.4 L736.2,355.1 L739.5,352.9 L742.7,350.6 L746.0,348.4 L749.2,346.2 L752.5,344.1 L755.7,341.9 L759.0,339.8 L762.2,337.8 L765.5,335.7 L768.7,333.7 L772.0,331.8 L775.3,329.8 L778.5,327.9 L781.8,326.0 L785.0,324.2 L788.3,322.3 L791.5,320.5 L794.8,318.8 L798.0,317.0 L801.3,315.3 L804.5,313.6 L807.8,312.0 L811.1,310.3 L814.3,308.7 L817.6,307.1 L820.8,305.6 L824.1,304.0 L827.3,302.5 L830.6,301.1 L833.8,299.6 L837.1,298.2 L840.3,296.8 L843.6,295.4 L846.9,294.0 L850.1,292.7 L853.4,291.4 L856.6,290.1 L859.9,288.8 L863.1,287.6 L866.4,286.4 L869.6,285.2 L872.9,284.0 L876.1,282.8 L879.4,281.7 L882.7,280.6 L885.9,279.5 L889.2,278.4 L892.4,277.4 L895.7,276.3 L898.9,275.3 L902.2,274.3 L905.4,273.4 L908.7,272.4 L911.9,271.5 L915.2,270.6 L918.5,269.7 L921.7,268.8 L925.0,267.9 L928.2,267.1 L931.5,266.3 L934.7,265.5 L938.0,264.7 L941.2,263.9 L944.5,263.1 L947.7,262.4 L951.0,261.7 L954.3,261.0 L957.5,260.3 L960.8,259.6 L964.0,258.9 L967.3,258.3 L970.5,257.6 L973.8,257.0 L977.0,256.4 L980.3,255.8 L983.5,255.2 L986.8,254.6 L990.1,254.1 L993.3,253.5 L996.6,253.0 L999.8,252.5 L1003.1,252.0 L1006.3,251.5 L1009.6,251.0 L1012.8,250.5 L1016.1,250.0 L1019.3,249.6 L1022.6,249.2 L1025.9,248.7 L1029.1,248.3 L1032.4,247.9 L1035.6,247.5 L1038.9,247.1 L1042.1,246.7 L1045.4,246.3 L1048.6,245.9 L1051.9,245.6 L1055.1,245.2 L1058.4,244.9 L1061.7,244.5 L1064.9,244.2 L1068.2,243.9 L1071.4,243.6 L1074.7,243.2 L1077.9,242.9 L1081.2,242.6 L1084.4,242.3 L1087.7,242.0 L1090.9,241.8 L1094.2,241.5 L1097.5,241.2 L1100.7,240.9 L1104.0,240.7 L1107.2,240.4 L1110.5,240.2 L1113.7,239.9 L1117.0,239.7 L1120.2,239.4 L1123.5,239.2 L1126.7,239.0 L1130.0,238.7 L1133.3,238.5 L1136.5,238.3 L1139.8,238.1 L1143.0,237.9 L1146.3,237.7 L1149.5,237.5 L1152.8,237.3 L1156.0,237.1 L1159.3,236.9 L1162.5,236.7 L1165.8,236.5 L1169.1,236.4 L1172.3,236.2 L1175.6,236.0 L1178.8,235.9 L1182.1,235.7 L1185.3,235.5 L1188.6,235.4 L1191.8,235.2 L1195.1,235.1 L1198.4,235.0 L1201.6,234.8 L1204.9,234.7 L1208.1,234.5 L1211.4,234.4 L1214.6,234.3 L1217.9,234.2 L1221.1,234.0 L1224.4,233.9 L1227.6,233.8 L1230.9,233.7 L1234.2,233.6 L1237.4,233.5 L1240.7,233.4 L1243.9,233.2 L1247.2,233.1 L1250.4,233.0 L1253.7,232.9 L1256.9,232.8 L1260.2,232.8 L1263.4,232.7 L1266.7,232.6 L1270.0,232.5 L1273.2,232.4 L1276.5,232.3 L1279.7,232.2 L1283.0,232.1 L1286.2,232.0 L1289.5,232.0 L1292.7,231.9 L1296.0,231.8 L1299.2,231.7 L1302.5,231.7 L1305.8,231.6 L1309.0,231.5 L1312.3,231.4 L1315.5,231.4 L1318.8,231.3 L1322.0,231.2 L1325.3,231.1 L1328.5,231.1 L1331.8,231.0 L1335.0,230.9 L1338.3,230.9 L1341.6,230.8 L1344.8,230.7 L1348.1,230.6 L1351.3,230.6 L1354.6,230.5 L1357.8,230.4 L1361.1,230.4 L1364.3,230.3 L1367.6,230.2 L1370.8,230.2 L1374.1,230.1 L1377.4,230.0 L1380.6,229.9 L1383.9,229.9 L1387.1,229.8 L1390.4,229.7 L1393.6,229.6 L1396.9,229.6 L1400.1,229.5 L1403.4,229.4" stroke="#ff0000" stroke-dasharray="21.9 20.25"/>
<path d="M101.5,1051.8 L104.8,1047.5 L108.1,1043.2 L111.3,1038.8 L114.6,1034.5 L117.8,1030.3 L121.1,1026.0 L124.3,1021.7 L127.6,1017.4 L130.8,1013.2 L134.1,1008.9 L137.4,1004.7 L140.6,1000.4 L143.9,996.2 L147.1,991.9 L150.4,987.7 L153.6,983.5 L156.9,979.3 L160.1,975.1 L163.4,970.8 L166.6,966.6 L169.9,962.4 L173.2,958.2 L176.4,954.0 L179.7,949.8 L182.9,945.6 L186.2,941.4 L189.4,937.2 L192.7,933.0 L195.9,928.8 L199.2,924.6 L202.4,920.4 L205.7,916.2 L209.0,912.0 L212.2,907.8 L215.5,903.6 L218.7,899.3 L222.0,895.1 L225.2,890.9 L228.5,886.7 L231.7,882.4 L235.0,878.2 L238.2,873.9 L241.5,869.7 L244.8,865.4 L248.0,861.2 L251.3,856.9 L254.5,852.6 L257.8,848.3 L261.0,844.0 L264.3,839.7 L267.5,835.4 L270.8,831.1 L274.0,826.8 L277.3,822.4 L280.6,818.1 L283.8,813.8 L287.1,809.4 L290.3,805.1 L293.6,800.7 L296.8,796.3 L300.1,792.0 L303.3,787.6 L306.6,783.3 L309.8,778.9 L313.1,774.5 L316.4,770.2 L319.6,765.8 L322.9,761.5 L326.1,757.2 L329.4,752.8 L332.6,748.5 L335.9,744.2 L339.1,739.9 L342.4,735.5 L345.6,731.3 L348.9,727.0 L352.2,722.7 L355.4,718.4 L358.7,714.2 L361.9,709.9 L365.2,705.7 L368.4,701.5 L371.7,697.2 L374.9,693.0 L378.2,688.8 L381.4,684.7 L384.7,680.5 L388.0,676.3 L391.2,672.1 L394.5,668.0 L397.7,663.8 L401.0,659.7 L404.2,655.6 L407.5,651.5 L410.7,647.4 L414.0,643.3 L417.2,639.2 L420.5,635.1 L423.8,631.0 L427.0,626.9 L430.3,622.9 L433.5,618.8 L436.8,614.8 L440.0,610.8 L443.3,606.7 L446.5,602.7 L449.8,598.7 L453.0,594.7 L456.3,590.8 L459.6,586.8 L462.8,582.8 L466.1,578.9 L469.3,575.0 L472.6,571.1 L475.8,567.2 L479.1,563.3 L482.3,559.4 L485.6,555.5 L488.8,551.7 L492.1,547.9 L495.4,544.1 L498.6,540.3 L501.9,536.5 L505.1,532.8 L508.4,529.1 L511.6,525.4 L514.9,521.7 L518.1,518.0 L521.4,514.3 L524.6,510.7 L527.9,507.1 L531.2,503.5 L534.4,500.0 L537.7,496.4 L540.9,492.9 L544.2,489.4 L547.4,485.9 L550.7,482.5 L553.9,479.1 L557.2,475.7 L560.4,472.3 L563.7,468.9 L567.0,465.6 L570.2,462.3 L573.5,459.0 L576.7,455.8 L580.0,452.6 L583.2,449.4 L586.5,446.2 L589.7,443.1 L593.0,439.9 L596.2,436.9 L599.5,433.8 L602.8,430.8 L606.0,427.8 L609.3,424.8 L612.5,421.8 L615.8,418.9 L619.0,416.0 L622.3,413.1 L625.5,410.3 L628.8,407.5 L632.0,404.7 L635.3,401.9 L638.6,399.2 L641.8,396.5 L645.1,393.8 L648.3,391.2 L651.6,388.6 L654.8,386.0 L658.1,383.4 L661.3,380.9 L664.6,378.3 L667.9,375.8 L671.1,373.4 L674.4,371.0 L677.6,368.6 L680.9,366.2 L684.1,363.8 L687.4,361.5 L690.6,359.2 L693.9,356.9 L697.1,354.7 L700.4,352.5 L703.7,350.3 L706.9,348.1 L710.2,346.0 L713.4,343.9 L716.7,341.8 L719.9,339.7 L723.2,337.7 L726.4,335.7 L729.7,333.7 L732.9,331.8 L736.2,329.9 L739.5,328.0 L742.7,326.1 L746.0,324.3 L749.2,322.4 L752.5,320.6 L755.7,318.9 L759.0,317.2 L762.2,315.4 L765.5,313.8 L768.7,312.1 L772.0,310.5 L775.3,308.9 L778.5,307.3 L781.8,305.7 L785.0,304.2 L788.3,302.7 L791.5,301.2 L794.8,299.7 L798.0,298.3 L801.3,296.9 L804.5,295.5 L807.8,294.1 L811.1,292.8 L814.3,291.5 L817.6,290.2 L820.8,288.9 L824.1,287.7 L827.3,286.4 L830.6,285.2 L833.8,284.0 L837.1,282.9 L840.3,281.7 L843.6,280.6 L846.9,279.5 L850.1,278.4 L853.4,277.3 L856.6,276.3 L859.9,275.3 L863.1,274.2 L866.4,273.3 L869.6,272.3 L872.9,271.3 L876.1,270.4 L879.4,269.5 L882.7,268.6 L885.9,267.7 L889.2,266.9 L892.4,266.0 L895.7,265.2 L898.9,264.4 L902.2,263.6 L905.4,262.8 L908.7,262.0 L911.9,261.3 L915.2,260.6 L918.5,259.9 L921.7,259.2 L925.0,258.5 L928.2,257.8 L931.5,257.2 L934.7,256.5 L938.0,255.9 L941.2,255.3 L944.5,254.7 L947.7,254.1 L951.0,253.5 L954.3,253.0 L957.5,252.4 L960.8,251.9 L964.0,251.4 L967.3,250.9 L970.5,250.4 L973.8,249.9 L977.0,249.4 L980.3,249.0 L983.5,248.5 L986.8,248.1 L990.1,247.6 L993.3,247.2 L996.6,246.8 L999.8,246.4 L1003.1,246.0 L1006.3,245.6 L1009.6,245.3 L1012.8,244.9 L1016.1,244.6 L1019.3,244.2 L1022.6,243.9 L1025.9,243.6 L1029.1,243.2 L1032.4,242.9 L1035.6,242.6 L1038.9,242.3 L1042.1,242.0 L1045.4,241.8 L1048.6,241.5 L1051.9,241.2 L1055.1,240.9 L1058.4,240.7 L1061.7,240.4 L1064.9,240.2 L1068.2,239.9 L1071.4,239.7 L1074.7,239.5 L1077.9,239.2 L1081.2,239.0 L1084.4,238.8 L1087.7,238.6 L1090.9,238.4 L1094.2,238.2 L1097.5,238.0 L1100.7,237.8 L1104.0,237.6 L1107.2,237.4 L1110.5,237.2 L1113.7,237.0 L1117.0,236.8 L1120.2,236.7 L1123.5,236.5 L1126.7,236.3 L1130.0,236.2 L1133.3,236.0 L1136.5,235.9 L1139.8,235.7 L1143.0,235.5 L1146.3,235.4 L1149.5,235.3 L1152.8,235.1 L1156.0,235.0 L1159.3,234.8 L1162.5,234.7 L1165.8,234.6 L1169.1,234.5 L1172.3,234.3 L1175.6,234.2 L1178.8,234.1 L1182.1,234.0 L1185.3,233.9 L1188.6,233.8 L1191.8,233.7 L1195.1,233.5 L1198.4,233.4 L1201.6,233.3 L1204.9,233.2 L1208.1,233.2 L1211.4,233.1 L1214.6,233.0 L1217.9,232.9 L1221.1,232.8 L1224.4,232.7 L1227.6,232.6 L1230.9,232.5 L1234.2,232.5 L1237.4,232.4 L1240.7,232.3 L1243.9,232.2 L1247.2,232.2 L1250.4,232.1 L1253.7,232.0 L1256.9,231.9 L1260.2,231.9 L1263.4,231.8 L1266.7,231.7 L1270.0,231.7 L1273.2,231.6 L1276.5,231.6 L1279.7,231.5 L1283.0,231.4 L1286.2,231.4 L1289.5,231.3 L1292.7,231.3 L1296.0,231.2 L1299.2,231.2 L1302.5,231.1 L1305.8,231.0 L1309.0,231.0 L1312.3,230.9 L1315.5,230.9 L1318.8,230.8 L1322.0,230.8 L1325.3,230.7 L1328.5,230.7 L1331.8,230.6 L1335.0,230.6 L1338.3,230.5 L1341.6,230.5 L1344.8,230.4 L1348.1,230.4 L1351.3,230.3 L1354.6,230.3 L1357.8,230.2 L1361.1,230.1 L1364.3,230.1 L1367.6,230.0 L1370.8,230.0 L1374.1,229.9 L1377.4,229.9 L1380.6,229.8 L1383.9,229.8 L1387.1,229.7 L1390.4,229.6 L1393.6,229.6 L1396.9,229.5 L1400.1,229.5 L1403.4,229.4" stroke="#00ffff" stroke-dasharray="21.9 20.25"/>
</g>
<rect x="1085.5" y="756.4" width="294.0" height="270.6" fill="#fff"/>
<g stroke="#000" fill="#000">
<line x1="691.7" y1="659.6" x2="548.6" y2="351.6" stroke-width="1.4"/>
<polygon points="540.6,334 542.6,363.6 548.6,351.9 561.6,354.9" stroke-width="1.1" stroke-linejoin="round"/>
</g>
<line x1="1094.2" y1="777.2" x2="1181.4" y2="777.2" stroke="#00ff00" stroke-width="6.5"/>
<text class="lg" x="1188.6" y="783.7" textLength="83.4" lengthAdjust="spacingAndGlyphs">M=0.1,</text>
<text class="lg" x="1283.4" y="783.7" textLength="86.6" lengthAdjust="spacingAndGlyphs">N=0.85</text>
<line x1="1094.2" y1="809.8" x2="1181.4" y2="809.8" stroke="#b800b8" stroke-width="6.5"/>
<text class="lg" x="1188.6" y="816.3" textLength="83.4" lengthAdjust="spacingAndGlyphs">M=0.2,</text>
<text class="lg" x="1283.4" y="816.3" textLength="86.6" lengthAdjust="spacingAndGlyphs">N=0.85</text>
<line x1="1094.2" y1="842.5" x2="1181.4" y2="842.5" stroke="#ff0000" stroke-width="6.5"/>
<text class="lg" x="1188.6" y="849.0" textLength="83.4" lengthAdjust="spacingAndGlyphs">M=0.3,</text>
<text class="lg" x="1283.4" y="849.0" textLength="86.6" lengthAdjust="spacingAndGlyphs">N=0.85</text>
<line x1="1094.2" y1="875.1" x2="1181.4" y2="875.1" stroke="#00ffff" stroke-width="6.5"/>
<text class="lg" x="1188.6" y="881.6" textLength="83.4" lengthAdjust="spacingAndGlyphs">M=0.4,</text>
<text class="lg" x="1283.4" y="881.6" textLength="86.6" lengthAdjust="spacingAndGlyphs">N=0.85</text>
<line x1="1094.2" y1="907.7" x2="1181.4" y2="907.7" stroke="#00ff00" stroke-width="6.5" stroke-dasharray="21.6 20.1"/>
<text class="lg" x="1188.6" y="914.3" textLength="83.4" lengthAdjust="spacingAndGlyphs">M=0.1,</text>
<text class="lg" x="1283.4" y="914.3" textLength="52.0" lengthAdjust="spacingAndGlyphs">N=1</text>
<line x1="1094.2" y1="940.4" x2="1181.4" y2="940.4" stroke="#b800b8" stroke-width="6.5" stroke-dasharray="21.6 20.1"/>
<text class="lg" x="1188.6" y="946.9" textLength="83.4" lengthAdjust="spacingAndGlyphs">M=0.2,</text>
<text class="lg" x="1283.4" y="946.9" textLength="52.0" lengthAdjust="spacingAndGlyphs">N=1</text>
<line x1="1094.2" y1="973.0" x2="1181.4" y2="973.0" stroke="#ff0000" stroke-width="6.5" stroke-dasharray="21.6 20.1"/>
<text class="lg" x="1188.6" y="979.5" textLength="83.4" lengthAdjust="spacingAndGlyphs">M=0.3,</text>
<text class="lg" x="1283.4" y="979.5" textLength="52.0" lengthAdjust="spacingAndGlyphs">N=1</text>
<line x1="1094.2" y1="1005.6" x2="1181.4" y2="1005.6" stroke="#00ffff" stroke-width="6.5" stroke-dasharray="21.6 20.1"/>
<text class="lg" x="1188.6" y="1012.2" textLength="83.4" lengthAdjust="spacingAndGlyphs">M=0.4,</text>
<text class="lg" x="1283.4" y="1012.2" textLength="52.0" lengthAdjust="spacingAndGlyphs">N=1</text>
<text class="tk" x="103.0" y="1089.4" text-anchor="middle" textLength="14.9" lengthAdjust="spacingAndGlyphs">0</text>
<text class="tk" x="265.8" y="1089.4" text-anchor="middle" textLength="14.9" lengthAdjust="spacingAndGlyphs">1</text>
<text class="tk" x="428.5" y="1089.4" text-anchor="middle" textLength="14.9" lengthAdjust="spacingAndGlyphs">2</text>
<text class="tk" x="591.2" y="1089.4" text-anchor="middle" textLength="14.9" lengthAdjust="spacingAndGlyphs">3</text>
<text class="tk" x="754.0" y="1089.4" text-anchor="middle" textLength="14.9" lengthAdjust="spacingAndGlyphs">4</text>
<text class="tk" x="916.7" y="1089.4" text-anchor="middle" textLength="14.9" lengthAdjust="spacingAndGlyphs">5</text>
<text class="tk" x="1079.4" y="1089.4" text-anchor="middle" textLength="14.9" lengthAdjust="spacingAndGlyphs">6</text>
<text class="tk" x="1242.2" y="1089.4" text-anchor="middle" textLength="14.9" lengthAdjust="spacingAndGlyphs">7</text>
<text class="tk" x="1404.9" y="1089.4" text-anchor="middle" textLength="14.9" lengthAdjust="spacingAndGlyphs">8</text>
<text class="tk" x="89.5" y="1060.7" text-anchor="end" textLength="14.4" lengthAdjust="spacingAndGlyphs">0</text>
<text class="tk" x="89.5" y="896.2" text-anchor="end" textLength="37.2" lengthAdjust="spacingAndGlyphs">0.2</text>
<text class="tk" x="89.5" y="731.7" text-anchor="end" textLength="37.2" lengthAdjust="spacingAndGlyphs">0.4</text>
<text class="tk" x="89.5" y="567.3" text-anchor="end" textLength="37.2" lengthAdjust="spacingAndGlyphs">0.6</text>
<text class="tk" x="89.5" y="402.8" text-anchor="end" textLength="37.2" lengthAdjust="spacingAndGlyphs">0.8</text>
<text class="tk" x="89.5" y="238.3" text-anchor="end" textLength="14.4" lengthAdjust="spacingAndGlyphs">1</text>
<text class="tk" x="89.5" y="73.8" text-anchor="end" textLength="36.0" lengthAdjust="spacingAndGlyphs">1.2</text>
<text x="581.2" y="29.7" font-size="33" textLength="221.8" lengthAdjust="spacingAndGlyphs">Injection Case (</text>
<text x="805.6" y="29.7" font-size="33" class="it" textLength="11.6" lengthAdjust="spacingAndGlyphs">f</text>
<text x="824" y="35" font-size="23" class="it">w</text>
<text x="851" y="29.7" font-size="33" textLength="70.6" lengthAdjust="spacingAndGlyphs">= -1)</text>
<text x="744.2" y="1129.1" font-size="31.5" class="it" textLength="16" lengthAdjust="spacingAndGlyphs">η</text>
<text transform="translate(30.5,591.2) rotate(-90)" font-size="35" textLength="65.5" lengthAdjust="spacingAndGlyphs"><tspan class="it">f</tspan>′(<tspan class="it">η</tspan>)</text>
</svg></body></html>
